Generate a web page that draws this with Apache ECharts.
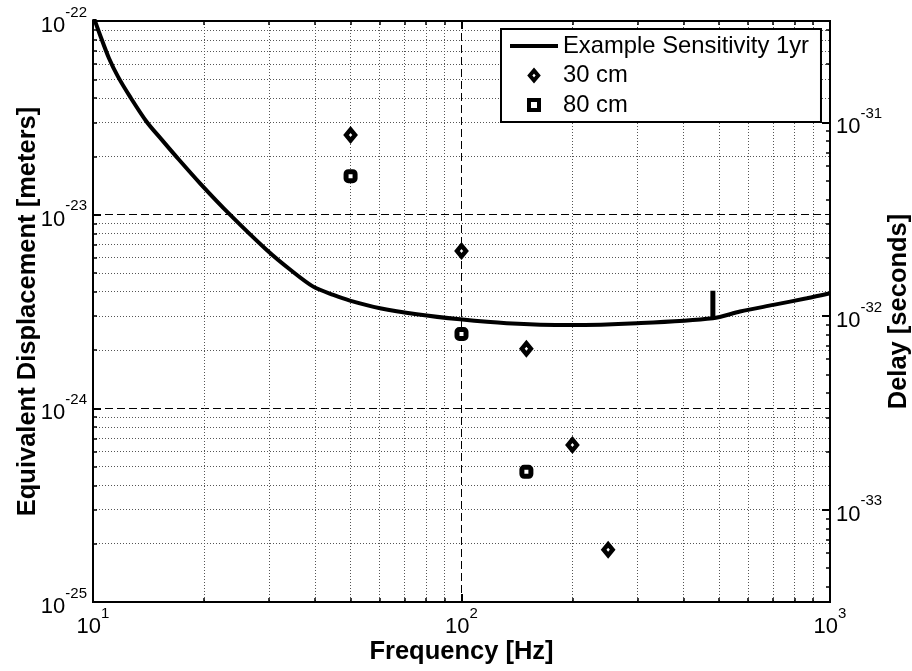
<!DOCTYPE html>
<html><head><meta charset="utf-8">
<script src="https://cdn.jsdelivr.net/npm/echarts@6/dist/echarts.min.js"></script>
<style>html,body{margin:0;padding:0;background:#fff}#c{width:912px;height:671px}</style>
</head><body><div id="c"></div>
<script>
// ---- data ----
const curveFreq = [10, 10.45, 11.05, 11.69, 12.6, 13.98, 15.36, 16.69, 19.52, 23.54, 29.61, 34.25, 39.6, 44.9, 49.8, 60.1, 75.6, 99.1, 132.6, 197, 299, 481, 570, 702, 865, 1000];
const curveDisp = [1.07e-22, 8.47e-23, 6.42e-23, 5.16e-23, 4.07e-23, 3.02e-23, 2.44e-23, 2.03e-23, 1.452e-23, 1.0e-23, 6.57e-24, 5.21e-24, 4.25e-24, 3.85e-24, 3.6e-24, 3.29e-24, 3.06e-24, 2.88e-24, 2.75e-24, 2.69e-24, 2.75e-24, 2.92e-24, 3.16e-24, 3.42e-24, 3.70e-24, 3.93e-24];
const spikeFreq = [481, 481];
const spikeDisp = [2.92e-24, 4.05e-24];
const freq30 = [50, 100, 150, 200, 250];
const disp30 = [2.58e-23, 6.5e-24, 2.03e-24, 6.47e-25, 1.86e-25];
const freq80 = [50, 100, 150];
const disp80 = [1.58e-23, 2.42e-24, 4.7e-25];
const xRange = [10, 1000];
const yRange = [1e-25, 1e-22];
const xMajor = [10, 100, 1000];
const xMinor = [20, 30, 40, 50, 60, 70, 80, 90, 200, 300, 400, 500, 600, 700, 800, 900];
const yMajor = [1e-25, 1e-24, 1e-23, 1e-22];
const yMinor = [2e-25,3e-25,4e-25,5e-25,6e-25,7e-25,8e-25,9e-25,2e-24,3e-24,4e-24,5e-24,6e-24,7e-24,8e-24,9e-24,2e-23,3e-23,4e-23,5e-23,6e-23,7e-23,8e-23,9e-23];
const dMajor = [1e-33, 1e-32, 1e-31];
const dMinor = [4e-34,5e-34,6e-34,7e-34,8e-34,9e-34,2e-33,3e-33,4e-33,5e-33,6e-33,7e-33,8e-33,9e-33,2e-32,3e-32,4e-32,5e-32,6e-32,7e-32,8e-32,9e-32,2e-31,3e-31];
const lightSpeed = 299792458;   // delay = displacement / c
const legendNames = ['Example Sensitivity 1yr', '30 cm', '80 cm'];
const xTitle = 'Frequency [Hz]';
const yTitle = 'Equivalent Displacement [meters]';
const y2Title = 'Delay [seconds]';

// ---- logarithmic axes: the library's value scale on log10 of the data ----
const FONT = '"Liberation Sans", Arial, Helvetica, sans-serif';
const L = v => Math.log10(v);
const LL = arr => arr.map(L);
const zipLog = (a, b) => a.map((v, i) => [L(v), L(b[i])]);
const pow10 = v => '{b|10}{s|' + Math.round(v) + '}';
const rich = {
  b: {fontSize: 22, lineHeight: 32, verticalAlign: 'bottom', color: '#000', fontFamily: FONT},
  s: {fontSize: 15, lineHeight: 12, verticalAlign: 'top', color: '#000', fontFamily: FONT}
};
const axLine = {show: true, onZero: false, lineStyle: {color: '#000', width: 2}};
const dotted = {show: true, lineStyle: {color: '#555', width: 1, type: [1, 2]}};
const dashed = {show: true, lineStyle: {color: '#000', width: 1, type: [8, 4]}};
const nameStyle = {fontSize: 25.5, fontWeight: 'bold', color: '#000', fontFamily: FONT};

function ax(pos, min, max, ticks, len, extra) {
  return Object.assign({
    type: 'value', min: min, max: max, position: pos, gridIndex: 0, scale: true,
    axisLine: axLine,
    axisTick: {show: true, inside: true, length: len, customValues: ticks, lineStyle: {color: '#000', width: len > 5 ? 2 : 1.5}},
    axisLabel: {show: false},
    splitLine: {show: false}, minorTick: {show: false}, minorSplitLine: {show: false},
    nameMoveOverlap: false
  }, extra || {});
}
const xMin = L(xRange[0]), xMax = L(xRange[1]);
const yMin = L(yRange[0]), yMax = L(yRange[1]);
const dMin = L(yRange[0] / lightSpeed), dMax = L(yRange[1] / lightSpeed);

const legendIcons = [
  'path://M0,0L48,0L48,4L0,4Z',
  'path://M5,0L10,6L5,12L0,6Z',
  'path://M0,0L10,0L10,10L0,10Z'
];
const legendMarkStyle = [
  {color: '#000', borderWidth: 0},
  {color: '#fff', borderColor: '#000', borderWidth: 4},
  {color: '#fff', borderColor: '#000', borderWidth: 4}
];

const option = {
  animation: false,
  backgroundColor: '#fff',
  textStyle: {fontFamily: FONT},
  grid: {left: 93, right: 82, top: 21, bottom: 69, containLabel: false, outerBoundsMode: 'none',
    show: true, borderColor: '#000', borderWidth: 2, backgroundColor: 'transparent'},
  xAxis: [
    ax('bottom', xMin, xMax, LL(xMinor), 4, {splitLine: dotted}),
    ax('bottom', xMin, xMax, LL(xMajor), 8, {
      splitLine: dashed,
      axisLabel: {show: true, customValues: LL(xMajor), margin: 4, formatter: pow10, rich: rich},
      name: xTitle, nameLocation: 'middle', nameGap: 37, nameTextStyle: nameStyle
    }),
    ax('top', xMin, xMax, LL(xMinor), 4),
    ax('top', xMin, xMax, LL(xMajor), 8)
  ],
  yAxis: [
    ax('left', yMin, yMax, LL(yMinor), 4, {splitLine: dotted}),
    ax('left', yMin, yMax, LL(yMajor), 8, {
      splitLine: dashed,
      axisLabel: {show: true, customValues: LL(yMajor), margin: 6, formatter: pow10, rich: rich},
      name: yTitle, nameLocation: 'middle', nameGap: 52, nameRotate: 90, nameTextStyle: nameStyle
    }),
    ax('right', dMin, dMax, LL(dMajor), 8, {
      axisLabel: {show: true, customValues: LL(dMajor), margin: 6, formatter: pow10, rich: rich},
      name: y2Title, nameLocation: 'middle', nameGap: 56, nameRotate: 90, nameTextStyle: nameStyle
    }),
    ax('right', dMin, dMax, LL(dMinor), 4)
  ],
  legend: {
    orient: 'vertical', left: 501, top: 29, padding: [4, 12, 4, 9], itemGap: 3.5,
    itemWidth: 48, itemHeight: 10, symbolKeepAspect: true,
    backgroundColor: '#fff', borderColor: '#000', borderWidth: 2, borderRadius: 0,
    textStyle: {fontSize: 23.8, color: '#000', fontFamily: FONT, lineHeight: 26},
    data: legendNames.map((n, i) => ({name: n, icon: legendIcons[i], itemStyle: legendMarkStyle[i]})), z: 10
  },
  series: [
    {name: legendNames[0], type: 'line', xAxisIndex: 0, yAxisIndex: 0, data: zipLog(curveFreq, curveDisp),
      symbol: 'none', smooth: 0.3, clip: true, lineStyle: {color: '#000', width: 4}, itemStyle: {color: '#000'}, z: 3},
    {name: legendNames[0], type: 'line', xAxisIndex: 0, yAxisIndex: 0, data: zipLog(spikeFreq, spikeDisp),
      symbol: 'none', lineStyle: {color: '#000', width: 5, cap: 'butt'}, itemStyle: {color: '#000'}, z: 3},
    {name: legendNames[1], type: 'scatter', xAxisIndex: 0, yAxisIndex: 0, data: zipLog(freq30, disp30),
      symbol: 'diamond', symbolSize: [9, 11], itemStyle: {color: '#fff', borderColor: '#000', borderWidth: 4.5, opacity: 1}, z: 4},
    {name: legendNames[2], type: 'scatter', xAxisIndex: 0, yAxisIndex: 0, data: zipLog(freq80, disp80),
      symbol: 'roundRect', symbolSize: 9, itemStyle: {color: '#fff', borderColor: '#000', borderWidth: 5, opacity: 1}, z: 4}
  ]
};
const chart = echarts.init(document.getElementById('c'), null, {renderer: 'canvas'});
chart.setOption(option);
</script></body></html>
